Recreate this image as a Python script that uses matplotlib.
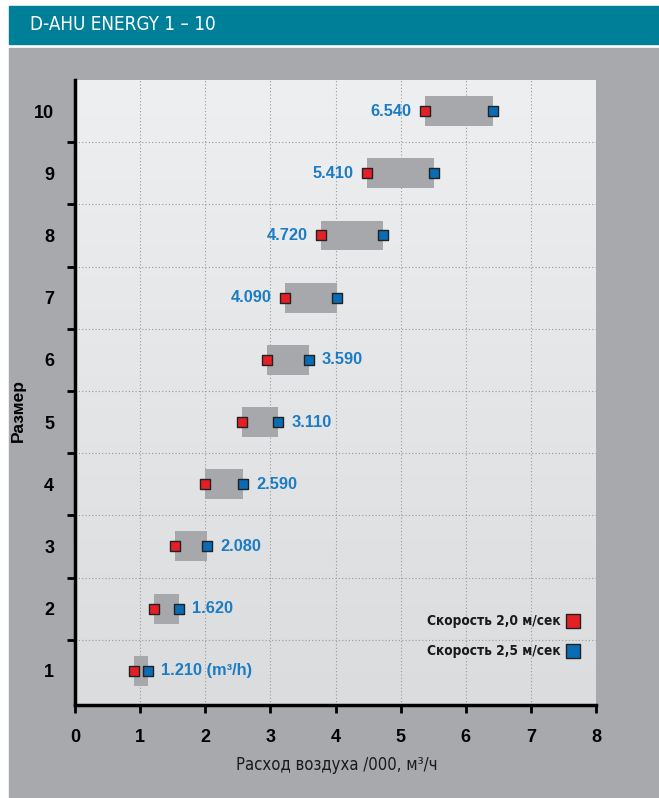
import numpy as np
import matplotlib.pyplot as plt
from matplotlib.patches import Rectangle

sizes = [1, 2, 3, 4, 5, 6, 7, 8, 9, 10]
speed_20 = [0.91, 1.21, 1.54, 2.00, 2.57, 2.95, 3.23, 3.78, 4.49, 5.38]
speed_25 = [1.12, 1.60, 2.03, 2.58, 3.12, 3.59, 4.02, 4.73, 5.51, 6.42]
labels = ['1.210 (m³/h)', '1.620', '2.080', '2.590', '3.110',
          '3.590', '4.090', '4.720', '5.410', '6.540']
label_left = [False, False, False, False, False, False, True, True, True, True]

red = '#e41f26'
blue = '#0a6cb4'
txt_blue = '#1b7cc4'
narrow = dict(family='DejaVu Sans', fontstretch='condensed')

fig = plt.figure(figsize=(6.59, 7.98), dpi=100)
fig.patch.set_facecolor('white')

# header band and grey panel
W, H = 659, 798
fig.patches.append(Rectangle((9 / W, 1 - 44 / H), 650 / W, 38 / H,
                             transform=fig.transFigure, color='#007f98', zorder=-5))
fig.patches.append(Rectangle((9 / W, 0), 650 / W, 1 - 48 / H,
                             transform=fig.transFigure, color='#a8a9ac', zorder=-5))
fig.text(30 / W, 1 - 25 / H, 'D-AHU ENERGY 1 – 10', color='white', fontsize=13.5,
         va='center', ha='left', **narrow)

ax = fig.add_axes([75 / W, 1 - 705 / H, 521 / W, 625 / H])
ax.set_zorder(2)

# background gradient
grad = np.linspace(0, 1, 256).reshape(-1, 1)
ax.imshow(grad, extent=[0, 1, 0, 1], transform=ax.transAxes, aspect='auto',
          cmap=plt.matplotlib.colors.LinearSegmentedColormap.from_list(
              'bg', ['#dbdcde', '#eeeff0']), origin='lower', zorder=0)
ax.set_xlim(0, 8)
ax.set_ylim(0.45, 10.5)

# grid
for x in range(1, 8):
    ax.axvline(x, color='#9a9a9a', linestyle=(0, (1, 2)), linewidth=0.8, zorder=1)
for y in np.arange(1.5, 10, 1):
    ax.axhline(y, color='#9a9a9a', linestyle=(0, (1, 2)), linewidth=0.8, zorder=1)

# bars and markers
for s, a, b, lab, left in zip(sizes, speed_20, speed_25, labels, label_left):
    ax.add_patch(Rectangle((a, s - 0.24), b - a, 0.48, color='#a7a8ab', zorder=2, lw=0))
    if left:
        ax.text(a - 0.21, s, lab, ha='right', va='center', color=txt_blue,
                fontsize=11.8, fontweight='bold', family='Liberation Sans')
    else:
        ax.text(b + 0.2, s, lab, ha='left', va='center', color=txt_blue,
                fontsize=11.8, fontweight='bold', family='Liberation Sans')
ax.scatter(speed_20, sizes, marker='s', s=55, color=red, edgecolor='#222222',
           linewidth=1, zorder=3)
ax.scatter(speed_25, sizes, marker='s', s=55, color=blue, edgecolor='#222222',
           linewidth=1, zorder=3)

# legend
ax.text(7.45, 1.80, 'Скорость 2,0 м/сек', ha='right', va='center', fontsize=9.8,
        fontweight='bold', color='#1a1a1a', **narrow)
ax.text(7.45, 1.32, 'Скорость 2,5 м/сек', ha='right', va='center', fontsize=9.8,
        fontweight='bold', color='#1a1a1a', **narrow)
ax.scatter([7.65], [1.80], marker='s', s=110, color=red, edgecolor='#222222',
           linewidth=1, zorder=3)
ax.scatter([7.65], [1.32], marker='s', s=110, color=blue, edgecolor='#222222',
           linewidth=1, zorder=3)

# spines and ticks
for side in ['top', 'right']:
    ax.spines[side].set_visible(False)
for side in ['left', 'bottom']:
    ax.spines[side].set_linewidth(2.5)
    ax.spines[side].set_color('black')
ax.set_xticks(range(0, 9))
ax.set_xticklabels([str(i) for i in range(0, 9)], fontsize=13, fontweight='bold',
                   family='Liberation Sans')
ax.tick_params(axis='x', length=6, width=2, pad=11)
ax.set_yticks(sizes)
ax.set_yticklabels([str(s) for s in sizes], fontsize=13, fontweight='bold',
                   family='Liberation Sans')
ax.tick_params(axis='y', which='major', length=0, pad=15)
ax.set_yticks(np.arange(1.5, 10, 1), minor=True)
ax.tick_params(axis='y', which='minor', length=6, width=2)

fig.text(337 / W, 1 - 765 / H, 'Расход воздуха /000, м³/ч', ha='center', va='center',
         fontsize=12, color='#1a1a1a', **narrow)
fig.text(18 / W, 1 - 410 / H, 'Размер', ha='center', va='center', rotation=90,
         fontsize=12.5, fontweight='bold', family='Liberation Sans')

plt.savefig('out.png', dpi=100)
